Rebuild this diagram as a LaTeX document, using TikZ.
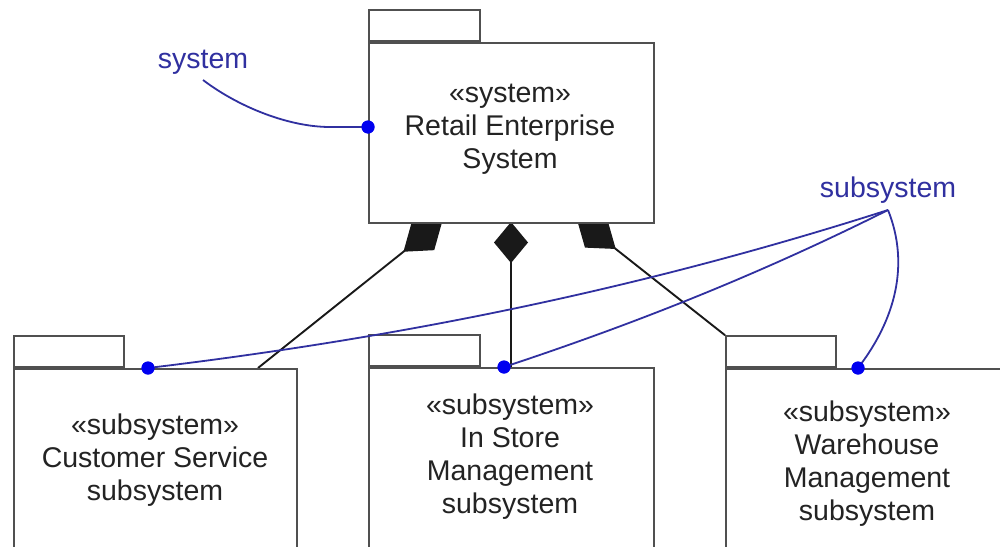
\documentclass[tikz,border=0pt]{standalone}
\usepackage{fontspec}
\setmainfont{Liberation Sans}
\usetikzlibrary{arrows.meta}
\pgfdeclarelayer{bg}
\pgfsetlayers{bg,main}
\definecolor{pkgline}{RGB}{80,80,80}
\definecolor{txtgray}{RGB}{35,35,35}
\definecolor{noteblue}{RGB}{48,48,160}
\definecolor{dotblue}{RGB}{0,0,240}
\begin{document}
\begin{tikzpicture}[x=1pt,y=-1pt,
  pkg/.style={draw=pkgline, line width=1.8pt, fill=white, rectangle, inner sep=0pt},
  txt/.style={font=\fontsize{28.5}{33}\selectfont, align=center, text=txtgray, inner sep=0pt},
  notelbl/.style={font=\fontsize{28.5}{33}\selectfont, text=noteblue, inner sep=0pt},
  comp/.style={draw=black!90, line width=1.9pt},
  noteline/.style={draw=noteblue, line width=1.8pt},
  dot/.style={circle, fill=dotblue, inner sep=0pt, minimum size=13pt}]
\useasboundingbox (0,0) rectangle (1000,546);
\clip (0,0) rectangle (1000,546);

% packages
\node[pkg, minimum width=285pt, minimum height=180pt, anchor=north west] (sys) at (368,42) {};
\node[pkg, minimum width=111pt, minimum height=31pt, anchor=south west] (systab) at (sys.north west) {};
\node[txt] (systxt) at (510,129) {«system»\\Retail Enterprise\\System};

\node[pkg, minimum width=283pt, minimum height=240pt, anchor=north west] (cs) at (13,368) {};
\node[pkg, minimum width=110pt, minimum height=31pt, anchor=south west] (cstab) at (cs.north west) {};
\node[txt] (cstxt) at (155,460) {«subsystem»\\Customer Service\\subsystem};

\node[pkg, minimum width=285pt, minimum height=240pt, anchor=north west] (ism) at (368,367) {};
\node[pkg, minimum width=111pt, minimum height=31pt, anchor=south west] (ismtab) at (ism.north west) {};
\node[txt] (ismtxt) at (510,457) {«subsystem»\\In Store\\Management\\subsystem};

\node[pkg, minimum width=290pt, minimum height=240pt, anchor=north west] (wm) at (725,368) {};
\node[pkg, minimum width=110pt, minimum height=31pt, anchor=south west] (wmtab) at (wm.north west) {};
\node[txt] (wmtxt) at (867,464) {«subsystem»\\Warehouse\\Management\\subsystem};

% composition connectors (behind the packages)
\coordinate (csjoin) at (258,368);
\coordinate (ltip) at (442.5,220.5);
\coordinate (ismjoin) at (511,367);
\coordinate (mtip) at (511,222);
\coordinate (rtip) at (576.5,218);
\begin{pgfonlayer}{bg}
\fill[white] (0,0) rectangle (1000,546);
\draw[comp, -{Diamond[length=50pt,width=36pt]}] (csjoin) -- (ltip);
\draw[comp, -{Diamond[length=41pt,width=34pt]}] (ismjoin) -- (mtip);
\draw[comp, -{Diamond[length=50pt,width=36pt]}] (wmtab.north west) -- (rtip);
\end{pgfonlayer}

% notes
\node[notelbl] (syslbl) at (203,62) {system};
\node[notelbl] (sublbl) at (888,190) {subsystem};
\coordinate (syslt) at (203,80);
\coordinate (sublt) at (888,210);
\coordinate (sysbend) at (330,127);

\node[dot] (dsys) at (368,127) {};
\node[dot] (dcs) at (148,368) {};
\node[dot] (dism) at (504,367) {};
\node[dot] (dwm) at (858,368) {};

\draw[noteline] (syslt) .. controls (240,108) and (290,127) .. (sysbend) -- (dsys.center);
\draw[noteline] (sublt) .. controls (638,290) and (398,338) .. (dcs.center);
\draw[noteline] (sublt) .. controls (758,275) and (634,324) .. (dism.center);
\draw[noteline] (sublt) .. controls (910,265) and (895,320) .. (dwm.center);

\node[dot] at (dsys) {};
\node[dot] at (dcs) {};
\node[dot] at (dism) {};
\node[dot] at (dwm) {};
\end{tikzpicture}
\end{document}
